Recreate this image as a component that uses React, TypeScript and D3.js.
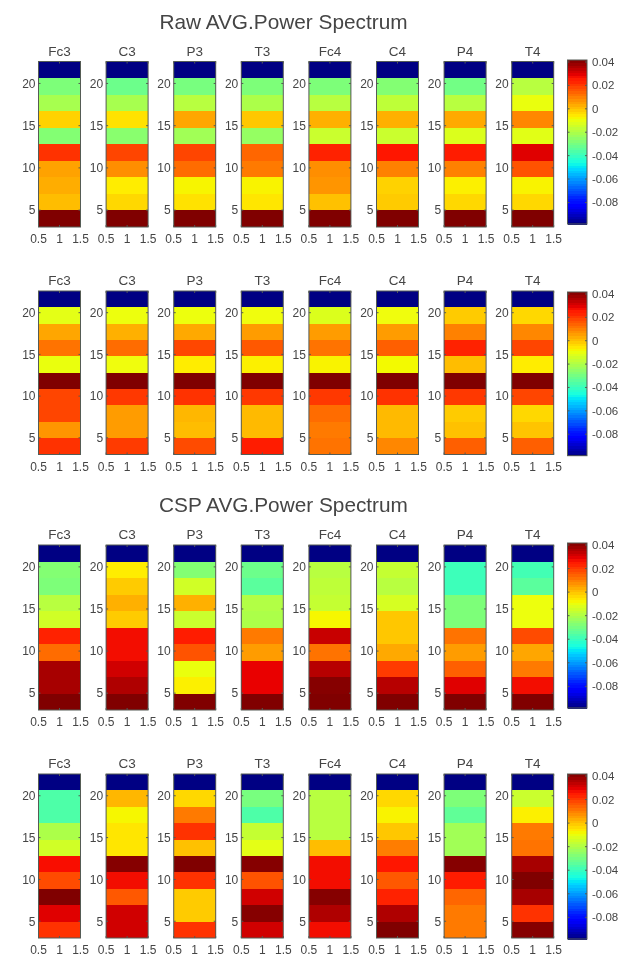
import React from "react";
import * as d3 from "d3";

const channels = ["Fc3", "C3", "P3", "T3", "Fc4", "C4", "P4", "T4"];
const freqs = [4, 6, 8, 10, 12, 14, 16, 18, 20, 22];
const xTicks = [0.5, 1, 1.5];
const yTicks = [5, 10, 15, 20];
const barTicks = [0.04, 0.02, 0, -0.02, -0.04, -0.06, -0.08];

// each list runs from the lowest frequency band to the highest
const rawUpper = [
  [0.0417, 0.001, 0.0035, 0.005, 0.022, -0.027, -0.002, -0.021, -0.028, -0.098],
  [0.0417, -0.003, -0.006, 0.008, 0.019, -0.026, -0.0045, -0.021, -0.031, -0.098],
  [0.0417, -0.0045, -0.0073, 0.013, 0.019, -0.022, 0.0045, -0.018, -0.029, -0.098],
  [0.0417, -0.005, -0.007, 0.011, 0.014, -0.024, -0.0005, -0.02, -0.028, -0.098],
  [0.0417, 0.0005, 0.007, 0.008, 0.024, -0.015, 0.003, -0.018, -0.028, -0.098],
  [0.0417, -0.001, -0.002, 0.01, 0.026, -0.015, 0.003, -0.017, -0.027, -0.098],
  [0.0417, -0.003, -0.0065, 0.01, 0.025, -0.012, 0.004, -0.018, -0.03, -0.098],
  [0.0417, -0.003, -0.007, 0.017, 0.03, -0.011, 0.009, -0.0095, -0.018, -0.098],
];
const rawLower = [
  [0.022, 0.007, 0.019, 0.019, 0.0417, -0.0095, 0.012, 0.0045, -0.0105, -0.098],
  [0.0205, 0.006, 0.006, 0.021, 0.0417, -0.0085, 0.013, 0.003, -0.009, -0.098],
  [0.018, 0.001, 0.002, 0.022, 0.0417, -0.006, 0.0185, 0.004, -0.009, -0.098],
  [0.025, 0.0015, 0.0015, 0.021, 0.0417, -0.0065, 0.016, 0.006, -0.0085, -0.098],
  [0.012, 0.011, 0.013, 0.021, 0.0417, -0.007, 0.012, 0.006, -0.012, -0.098],
  [0.009, 0.0015, 0.0015, 0.022, 0.0417, -0.008, 0.015, 0.006, -0.0085, -0.098],
  [0.015, 0.0005, -0.001, 0.021, 0.0417, 0.001, 0.024, 0.01, -0.001, -0.098],
  [0.015, 0, -0.003, 0.019, 0.0417, -0.006, 0.019, 0.009, -0.003, -0.098],
];
const cspUpper = [
  [0.0417, 0.037, 0.037, 0.013, 0.024, -0.014, -0.018, -0.028, -0.027, -0.098],
  [0.0417, 0.036, 0.032, 0.0277, 0.0277, -0.001, 0.003, -0.001, -0.006, -0.098],
  [0.0417, -0.0065, -0.0095, 0.017, 0.025, -0.015, 0.003, -0.014, -0.027, -0.098],
  [0.0417, 0.029, 0.029, 0.006, 0.011, -0.02, -0.019, -0.034, -0.031, -0.098],
  [0.0417, 0.041, 0.035, 0.012, 0.033, -0.0075, -0.016, -0.017, -0.018, -0.098],
  [0.0417, 0.035, 0.0205, 0.004, -0.0005, -0.0005, -0.013, -0.018, -0.016, -0.098],
  [0.0417, 0.03, 0.015, 0.006, 0.012, -0.028, -0.028, -0.039, -0.039, -0.098],
  [0.0417, 0.0277, 0.011, 0.0045, 0.018, -0.009, -0.009, -0.034, -0.038, -0.098],
];
const cspLower = [
  [0.022, 0.03, 0.0417, 0.018, 0.027, -0.014, -0.02, -0.036, -0.036, -0.098],
  [0.032, 0.032, 0.016, 0.0277, 0.041, -0.005, -0.005, -0.0075, 0.002, -0.098],
  [0.022, -0.001, -0.001, 0.022, 0.0417, 0.0005, 0.022, 0.011, -0.003, -0.098],
  [0.032, 0.041, 0.032, 0.017, 0.041, -0.0105, -0.016, -0.036, -0.029, -0.098],
  [0.0277, 0.036, 0.041, 0.0277, 0.0277, 0.001, -0.018, -0.018, -0.018, -0.098],
  [0.0417, 0.036, 0.024, 0.016, 0.026, 0.0105, -0.0005, -0.007, -0.003, -0.098],
  [0.011, 0.011, 0.014, 0.025, 0.041, -0.022, -0.022, -0.033, -0.028, -0.098],
  [0.041, 0.022, 0.037, 0.0417, 0.037, 0.012, 0.011, -0.0065, -0.015, -0.098],
];

const vMin = -0.0984;
const vMax = 0.0417;
const levelCount = 64;

const rampR = d3.scaleLinear([0, 0.35, 0.66, 0.89, 1], [0, 0, 255, 255, 128]).clamp(true);
const rampG = d3.scaleLinear([0, 0.125, 0.375, 0.64, 0.91, 1], [0, 0, 255, 255, 0, 0]).clamp(true);
const rampB = d3.scaleLinear([0, 0.11, 0.34, 0.65, 1], [128, 255, 255, 0, 0]).clamp(true);
const norm = d3.scaleLinear([vMin, vMax], [0, 1]).clamp(true);
const jet = (v: number) => {
  const t = norm(v);
  return `rgb(${Math.round(rampR(t))},${Math.round(rampG(t))},${Math.round(rampB(t))})`;
};

const textColor = "#454545";
const axisColor = "#555b55";
const fontFamily = "'Liberation Sans', Arial, sans-serif";

const panelLeft = d3.scaleLinear([0, 7], [38.5, 511.7]);
const panelWidth = 42;

const rows = [
  { data: rawUpper, top: 61.5, bottom: 227, barTop: 60, barBottom: 224 },
  { data: rawLower, top: 291, bottom: 454.5, barTop: 292, barBottom: 455.7 },
  { data: cspUpper, top: 545, bottom: 710, barTop: 543, barBottom: 708 },
  { data: cspLower, top: 774, bottom: 938, barTop: 774, barBottom: 939 },
];
const titles = [
  { text: "Raw AVG.Power Spectrum", y: 28.5 },
  { text: "CSP AVG.Power Spectrum", y: 512 },
];

function Panel({ values, name, left, top, bottom }: { values: number[]; name: string; left: number; top: number; bottom: number }) {
  const x = d3.scaleLinear([0.5, 1.5], [left, left + panelWidth]);
  const band = d3.scaleBand(freqs.map(String), [bottom, top]);
  const y = d3.scaleLinear([3, 22.6], [bottom, top]);
  return (
    <g>
      {freqs.map((f, i) => (
        <rect key={f} x={x(0.5)} width={panelWidth} y={band(String(f))} height={band.bandwidth()} fill={jet(values[i])} shapeRendering="crispEdges" />
      ))}
      <rect x={x(0.5)} y={top} width={panelWidth} height={bottom - top} fill="none" stroke={axisColor} strokeWidth={1} />
      <text x={x(1)} y={top - 6} fontSize={13.5} textAnchor="middle" fill={textColor}>{name}</text>
      {xTicks.map((t) => (
        <g key={t}>
          <line x1={x(t)} x2={x(t)} y1={bottom} y2={bottom - 2} stroke={axisColor} />
          <line x1={x(t)} x2={x(t)} y1={top} y2={top + 2} stroke={axisColor} />
          <text x={x(t)} y={bottom + 16} fontSize={12} textAnchor="middle" fill={textColor}>{t}</text>
        </g>
      ))}
      {yTicks.map((t) => (
        <g key={t}>
          <line x1={x(0.5)} x2={x(0.5) + 2} y1={y(t)} y2={y(t)} stroke={axisColor} />
          <line x1={x(1.5)} x2={x(1.5) - 2} y1={y(t)} y2={y(t)} stroke={axisColor} />
          <text x={x(0.5) - 3} y={y(t) + 4.3} fontSize={12} textAnchor="end" fill={textColor}>{t}</text>
        </g>
      ))}
    </g>
  );
}

function ColorBar({ top, bottom }: { top: number; bottom: number }) {
  const left = 567.5;
  const width = 19.5;
  const y = d3.scaleLinear([vMin, vMax], [bottom, top]);
  const levels = d3.range(levelCount);
  const level = d3.scaleLinear([0, levelCount], [vMin, vMax]);
  return (
    <g>
      {levels.map((l) => (
        <rect key={l} x={left} width={width} y={y(level(l + 1))} height={y(level(l)) - y(level(l + 1)) + 0.5}
          fill={jet(level(l + 0.5))} shapeRendering="crispEdges" />
      ))}
      <rect x={left} y={top} width={width} height={bottom - top} fill="none" stroke={axisColor} />
      {barTicks.map((t) => (
        <g key={t}>
          <line x1={left + width} x2={left + width - 2} y1={y(t)} y2={y(t)} stroke={axisColor} />
          <line x1={left} x2={left + 2} y1={y(t)} y2={y(t)} stroke={axisColor} />
          <text x={left + width + 5} y={y(t) + 4} fontSize={11.5} fill={textColor}>{t}</text>
        </g>
      ))}
    </g>
  );
}

export default function App() {
  return (
    <svg width={632} height={956} viewBox="0 0 632 956"
      style={{ position: "absolute", left: 0, top: 0, background: "#fff" }} fontFamily={fontFamily}>
      <defs>
        <filter id="soft" x="0" y="0" width="100%" height="100%">
          <feGaussianBlur stdDeviation={0.4} />
        </filter>
      </defs>
      <g filter="url(#soft)">
        {titles.map((t) => (
          <text key={t.text} x={283.5} y={t.y} fontSize={20.8} textAnchor="middle" fill={textColor}>{t.text}</text>
        ))}
        {rows.map((r, ri) => (
          <g key={ri}>
            {channels.map((c, i) => (
              <Panel key={c} values={r.data[i]} name={c} left={panelLeft(i)} top={r.top} bottom={r.bottom} />
            ))}
            <ColorBar top={r.barTop} bottom={r.barBottom} />
          </g>
        ))}
      </g>
    </svg>
  );
}
